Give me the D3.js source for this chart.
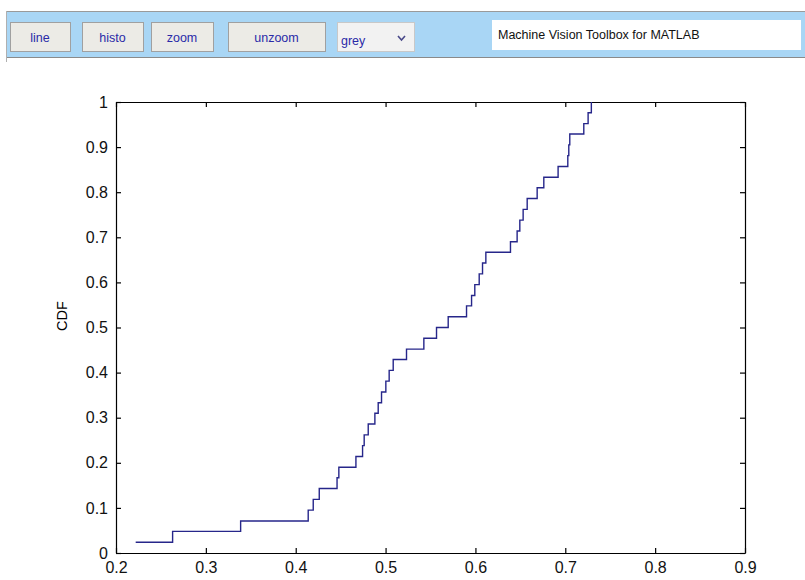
<!DOCTYPE html>
<html>
<head>
<meta charset="utf-8">
<script src="https://cdn.jsdelivr.net/npm/d3@7"></script>
<style>
  html, body { margin: 0; padding: 0; background: #ffffff; }
  svg { display: block; font-family: "Liberation Sans", Arial, sans-serif; }
</style>
</head>
<body>
<svg id="chart" width="805" height="580"></svg>
<script>
// ---- data ----
// x positions where the empirical CDF steps up
const stepX = [0.2219, 0.263, 0.3387, 0.4139, 0.4195, 0.4262, 0.446, 0.448,
  0.467, 0.4744, 0.4762, 0.4807, 0.4881, 0.4918, 0.4955, 0.5003, 0.5040, 0.5085,
  0.5233, 0.5426, 0.5567, 0.5697, 0.5901, 0.5957, 0.5993, 0.6042, 0.6079, 0.6116,
  0.6390, 0.6464, 0.6494, 0.6531, 0.6576, 0.6687, 0.6761, 0.6920, 0.7028, 0.7039,
  0.7050, 0.7206, 0.7254, 0.7290];
// CDF level reached at each step
const cdfY = [0.024, 0.048, 0.071, 0.095, 0.119, 0.143, 0.167, 0.190,
  0.214, 0.238, 0.262, 0.286, 0.310, 0.333, 0.357, 0.381, 0.405, 0.429,
  0.452, 0.476, 0.500, 0.524, 0.548, 0.571, 0.595, 0.619, 0.643, 0.667,
  0.690, 0.714, 0.738, 0.762, 0.786, 0.810, 0.833, 0.857, 0.881, 0.905,
  0.929, 0.952, 0.976, 1.000];
const xTicks = [0.2, 0.3, 0.4, 0.5, 0.6, 0.7, 0.8, 0.9];
const yTicks = [0, 0.1, 0.2, 0.3, 0.4, 0.5, 0.6, 0.7, 0.8, 0.9, 1];
const yLabel = "CDF";
const buttons = ["line", "histo", "zoom", "unzoom"];
const dropdownValue = "grey";
const titleText = "Machine Vision Toolbox for MATLAB";

const svg = d3.select("#chart");

// ---- toolbar ----
const tb = svg.append("g");
tb.append("rect").attr("x", 6).attr("y", 11).attr("width", 799).attr("height", 46)
  .attr("fill", "#a9d6f5");
tb.append("line").attr("x1", 6).attr("x2", 805).attr("y1", 11.5).attr("y2", 11.5)
  .attr("stroke", "#9a9a9a");
tb.append("line").attr("x1", 6).attr("x2", 805).attr("y1", 57.5).attr("y2", 57.5)
  .attr("stroke", "#8a8a8a");
tb.append("line").attr("x1", 6.5).attr("x2", 6.5).attr("y1", 11).attr("y2", 62)
  .attr("stroke", "#b0b0b0");

const btnX = [10, 82, 151, 228];
const btnW = [60, 61, 62, 97];
buttons.forEach((b, i) => {
  tb.append("rect").attr("x", btnX[i] + 0.5).attr("y", 22.5).attr("width", btnW[i]).attr("height", 29)
    .attr("fill", "#ecebe6").attr("stroke", "#a0a0a0");
  tb.append("text").attr("x", btnX[i] + btnW[i] / 2).attr("y", 41.5)
    .attr("text-anchor", "middle").attr("font-size", 12.5).attr("fill", "#2a2aa8").text(b);
});
// dropdown
tb.append("rect").attr("x", 337.5).attr("y", 22.5).attr("width", 77).attr("height", 29)
  .attr("fill", "#f2f2f2").attr("stroke", "#c8c8c8");
tb.append("text").attr("x", 341).attr("y", 45).attr("font-size", 12.5).attr("fill", "#2a2aa8").text(dropdownValue);
tb.append("path").attr("d", "M398,36 L401.5,40 L405,36").attr("fill", "none")
  .attr("stroke", "#4a4a8a").attr("stroke-width", 1.6);
// title box
tb.append("rect").attr("x", 492).attr("y", 20).attr("width", 309).attr("height", 30)
  .attr("fill", "#ffffff");
tb.append("text").attr("x", 498).attr("y", 39).attr("font-size", 12.5).attr("fill", "#111")
  .text(titleText);

// ---- plot ----
const L = 116, R = 745, T = 102, B = 553;
const x = d3.scaleLinear().domain([0.2, 0.9]).range([L, R]);
const y = d3.scaleLinear().domain([0, 1]).range([B, T]);
const fmt = d => d3.format("~g")(d);

const axG = svg.append("g").attr("font-family", '"Liberation Sans", Arial, sans-serif');

const xb = axG.append("g").attr("transform", `translate(0,${B})`)
  .call(d3.axisBottom(x).tickValues(xTicks).tickFormat(fmt).tickSizeInner(-5).tickSizeOuter(0).tickPadding(8));
const xt = axG.append("g").attr("transform", `translate(0,${T})`)
  .call(d3.axisTop(x).tickValues(xTicks).tickFormat("").tickSizeInner(-5).tickSizeOuter(0));
const yl = axG.append("g").attr("transform", `translate(${L},0)`)
  .call(d3.axisLeft(y).tickValues(yTicks).tickFormat(fmt).tickSizeInner(-5).tickSizeOuter(0).tickPadding(8));
const yr = axG.append("g").attr("transform", `translate(${R},0)`)
  .call(d3.axisRight(y).tickValues(yTicks).tickFormat("").tickSizeInner(-5).tickSizeOuter(0));

[xb, xt, yl, yr].forEach(g => {
  g.select(".domain").attr("stroke", "#000").attr("stroke-width", 1.2);
  g.selectAll(".tick line").attr("stroke", "#000").attr("stroke-width", 1.2);
  g.selectAll(".tick text").attr("font-size", 16).attr("fill", "#111")
    .attr("font-family", '"Liberation Sans", Arial, sans-serif');
});
xb.selectAll(".tick text").attr("dy", "0.75em");

svg.append("text")
  .attr("transform", `translate(67,316) rotate(-90)`)
  .attr("text-anchor", "middle")
  .attr("font-size", 14.5).attr("fill", "#000").text(yLabel);

// ---- CDF staircase ----
const pts = stepX.map((v, i) => [v, cdfY[i]]);
const line = d3.line().x(d => x(d[0])).y(d => y(d[1])).curve(d3.curveStepAfter);
svg.append("path").datum(pts).attr("d", line)
  .attr("fill", "none").attr("stroke", "#26268a").attr("stroke-width", 1.4);
</script>
</body>
</html>
